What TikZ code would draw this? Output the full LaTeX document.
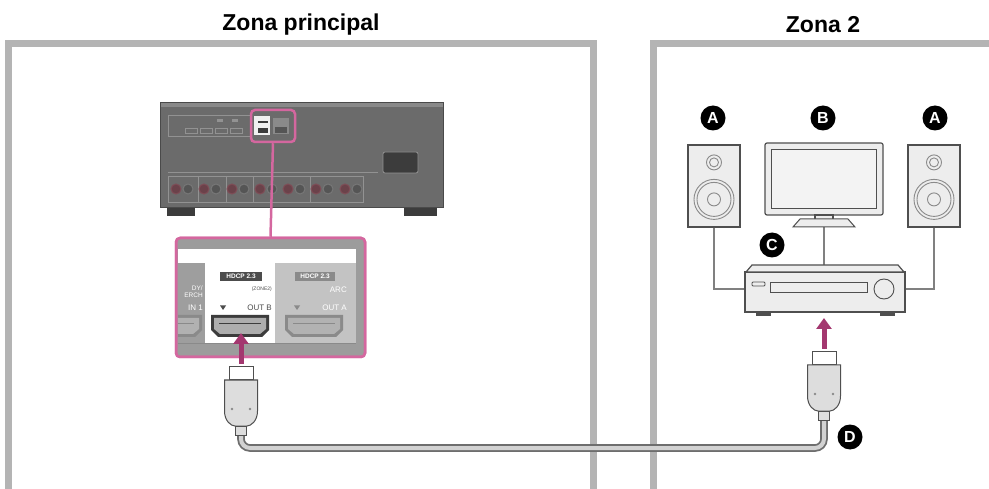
\documentclass[tikz,border=0pt]{standalone}
\usepackage{fontspec}
\setmainfont{Liberation Sans}
\usetikzlibrary{arrows.meta,calc}

\definecolor{zoneframe}{HTML}{B4B4B4}
\definecolor{hilite}{HTML}{D4679F}
\definecolor{plum}{HTML}{A3376F}
\definecolor{chassis}{HTML}{6B6B6B}
\definecolor{chassisedge}{HTML}{4A4A4A}
\definecolor{panelline}{HTML}{929292}
\definecolor{footcol}{HTML}{3C3C3C}
\definecolor{termred}{HTML}{7E4E57}
\definecolor{termgray}{HTML}{555555}
\definecolor{device}{HTML}{EDEDED}
\definecolor{screen}{HTML}{F3F3F3}
\definecolor{deviceedge}{HTML}{4F4F4F}
\definecolor{drivercol}{HTML}{8A8A8A}
\definecolor{wirecol}{HTML}{808080}
\definecolor{cablecore}{HTML}{D2D2D2}
\definecolor{cableedge}{HTML}{6E6E6E}
\definecolor{plugfill}{HTML}{DDDDDD}
\definecolor{panelgray}{HTML}{9C9C9C}
\definecolor{leftsect}{HTML}{9E9E9E}
\definecolor{rightsect}{HTML}{C3C3C3}
\definecolor{labeldark}{HTML}{4C4C4C}
\definecolor{labelmid}{HTML}{8A8A8A}

\tikzset{
  zone/.style={draw=zoneframe, line width=7pt},
  title/.style={font=\bfseries\fontsize{23}{23}\selectfont, inner sep=0pt},
  badge/.style={circle, fill=black, text=white, inner sep=0pt, minimum size=25pt,
    font=\bfseries\fontsize{16}{16}\selectfont},
  chassisbox/.style={rectangle, draw=chassisedge, fill=chassis, line width=1pt, inner sep=0pt},
  devbox/.style={rectangle, draw=deviceedge, fill=device, line width=1.2pt, inner sep=0pt},
  hilitebox/.style={rectangle, draw=hilite, line width=2.5pt, rounded corners=4pt, inner sep=0pt},
  wire/.style={draw=wirecol, line width=1.8pt},
  cable/.style={draw=cableedge, double=cablecore, double distance=4pt, line width=1.8pt},
  pinkarrow/.style={draw=plum, line width=5pt, -{Triangle[length=11pt,width=15pt]}},
  tiny/.style={inner sep=0pt, font=\fontsize{6.5}{6.5}\selectfont},
  pics/hdmiplug/.style={code={
    \draw[deviceedge, line width=1pt, fill=white] (-12,-13) rectangle (12,0);
    \draw[deviceedge, line width=1pt, fill=plugfill] (-16.5,0) -- (-16.5,31)
      .. controls (-16.5,41) and (-10,46) .. (-6,46) -- (6,46)
      .. controls (10,46) and (16.5,41) .. (16.5,31) -- (16.5,0) -- cycle;
    \draw[deviceedge, line width=1pt, fill=plugfill] (-5.5,46) rectangle (5.5,55);
    \fill[drivercol] (-9,29) circle (1.3) (9,29) circle (1.3);
  }},
  pics/hdmiport/.style 2 args={code={
    \fill[#1] (-29,-11) -- (29,-11) -- (29,4) -- (22,11) -- (-22,11) -- (-29,4) -- cycle;
    \fill[#2] (-26,-8) -- (26,-8) -- (26,3) -- (20,8) -- (-20,8) -- (-26,3) -- cycle;
    \draw[#1, line width=1pt] (-21,-2) -- (21,-2);
  }}
}

\begin{document}
\begin{tikzpicture}[x=1pt,y=-1pt]
\useasboundingbox (0,0) rectangle (989,489);

% ---------- zone frames and titles ----------
\draw[zone] (8.5,489) -- (8.5,43.5) -- (593,43.5) -- (593,489);
\draw[zone] (653,489) -- (653,43.5) -- (989,43.5);
\node[title] (tmain) at (301,25) {Zona principal};
\node[title] (tzone) at (823,25) {Zona 2};

% ---------- rear panel of the main receiver ----------
\fill[footcol] (167,207) rectangle (195,216);
\fill[footcol] (404,207) rectangle (437,216);
\node[chassisbox, minimum width=283pt, minimum height=105pt] (avr) at (301.5,155.5) {};
\fill[chassis!80!white] ($(avr.north west)+(1,1)$) rectangle ($(avr.north east)+(-1,5)$);
% HDMI inputs
\draw[panelline, line width=0.8pt] (168,115) rectangle (250,136);
\foreach \x in {185,200,215,230} \draw[panelline, line width=0.8pt] (\x,128) rectangle ++(12,5);
\fill[panelline] (217,119) rectangle ++(6,3);
\fill[panelline] (232,119) rectangle ++(6,3);
% HDMI outputs (highlighted)
\fill[gray!12] (254,116) rectangle (270,135);
\fill[footcol] (258,121) rectangle (268,123);
\fill[footcol] (258,128) rectangle (268,133);
\fill[labelmid] (273,118) rectangle (289,134);
\fill[termgray] (275,127) rectangle (287,133);
\node[hilitebox, minimum width=44pt, minimum height=32pt] (hl) at (273,126) {};
% AC inlet
\draw[fill=footcol, draw=panelline, line width=0.8pt, rounded corners=2pt] (383,152) rectangle (418,173);
% speaker terminals
\draw[panelline, line width=0.6pt] (168,172) -- (378,172);
\draw[panelline, line width=0.8pt] (168,176) rectangle (363,202);
\foreach \x in {198,226,253,310} \draw[panelline, line width=0.8pt] (\x,176) -- (\x,202);
\foreach \x in {176,204,232,260,288,316,345} {
  \draw[termred, fill=termred!85!black, line width=1pt] (\x,189) circle (5);
  \draw[termgray!80!white, fill=termgray, line width=1pt] (\x+12,189) circle (5);
}

% ---------- enlarged view of the HDMI outputs ----------
\node[hilitebox, fill=panelgray, minimum width=189pt, minimum height=119pt] (detail) at (270.5,297.5) {};
\draw[hilite, line width=2.5pt] (hl.south) -- (detail.north);
\begin{scope}
  \clip[rounded corners=3pt] (178,240) rectangle (363,355);
  \fill[white] (178,249) rectangle (356,263);
  \fill[leftsect] (178,263) rectangle (205,343);
  \fill[white] (205,263) rectangle (275,343);
  \fill[rightsect] (275,263) rectangle (356,343);
  \draw[labelmid, line width=0.8pt] (178,343) -- (356,343);
  % HDMI IN 1 (partly hidden)
  \node[tiny, anchor=east, text=white] (inA) at (203,288) {DY/};
  \node[tiny, anchor=east, text=white] (inB) at (203,295) {ERCH};
  \node[tiny, anchor=east, text=white, font=\fontsize{8}{8}\selectfont] (inC) at (203,308) {IN 1};
  \pic at (173,326) {hdmiport={labelmid}{leftsect!80!white}};
  % OUT B
  \node[fill=labeldark, text=white, inner sep=0pt, minimum width=42pt, minimum height=9pt,
        font=\bfseries\fontsize{6.5}{6.5}\selectfont] (hdcpB) at (241,276.5) {HDCP 2.3};
  \node[tiny, anchor=east, text=labeldark, font=\fontsize{5}{5}\selectfont] (zoneB) at (272,289) {(ZONE2)};
  \fill[labeldark] (220,305.5) -- (226,305.5) -- (223,310) -- cycle;
  \node[tiny, anchor=east, text=labeldark, font=\fontsize{8}{8}\selectfont] (outB) at (272,308) {OUT B};
  \pic at (240,326) {hdmiport={footcol}{labelmid!70!white}};
  % OUT A
  \node[fill=labelmid, text=white, inner sep=0pt, minimum width=40pt, minimum height=9pt,
        font=\bfseries\fontsize{6.5}{6.5}\selectfont] (hdcpA) at (315,276.5) {HDCP 2.3};
  \node[tiny, anchor=east, text=white, font=\fontsize{8}{8}\selectfont] (arcA) at (347,290) {ARC};
  \fill[labelmid] (294,305.5) -- (300,305.5) -- (297,310) -- cycle;
  \node[tiny, anchor=east, text=white, font=\fontsize{8}{8}\selectfont] (outA) at (347,308) {OUT A};
  \pic at (314,326) {hdmiport={labelmid}{rightsect!70!labelmid}};
\end{scope}
\node[hilitebox, minimum width=189pt, minimum height=119pt] (detailframe) at (270.5,297.5) {};

% ---------- HDMI cable ----------
\coordinate (plugLend) at (241,435);
\coordinate (plugRend) at (824,420);
\coordinate (cablerow) at (0,448);
\draw[cable, rounded corners=9pt] (plugLend) -- (plugLend |- cablerow) -- (plugRend |- cablerow) -- (plugRend);
\pic at (241,380) {hdmiplug};
\pic at (824,365) {hdmiplug};
\coordinate (plugLtop) at (241,364);
\coordinate (portB) at (241,333);
\draw[pinkarrow] (plugLtop) -- (portB);

% ---------- zone 2 equipment ----------
\coordinate (tvfoot) at (824,227);
\coordinate (rcvlid) at (824,265);
\node[devbox, minimum width=52pt, minimum height=82pt] (spkL) at (714,186) {};
\node[devbox, minimum width=52pt, minimum height=82pt] (spkR) at (934,186) {};
\node[devbox, minimum width=160pt, minimum height=40pt] (rcv) at (825,292) {};
\draw[wire] (spkL.south) |- ([yshift=3pt]rcv.west);
\draw[wire] (spkR.south) |- ([yshift=3pt]rcv.east);
\draw[wire] (tvfoot) -- (rcvlid);
\foreach \s in {spkL,spkR} {
  \draw[drivercol, line width=0.9pt] ($(\s.north)+(0,18)$) circle (7.5) circle (4.5);
  \draw[drivercol, line width=0.9pt] ($(\s.north)+(0,55)$) circle (20) circle (17) circle (6.5);
}
% television
\node[devbox, minimum width=118pt, minimum height=72pt, rounded corners=2pt] (tv) at (824,179) {};
\draw[deviceedge, line width=1pt, fill=screen] ($(tv.north west)+(7,7)$) rectangle ($(tv.south east)+(-7,-7)$);
\draw[devbox] (815,215) rectangle (833,220);
\draw[devbox, line width=1pt] (800,219) -- (848,219) -- (855,227) -- (793,227) -- cycle;
% zone 2 receiver
\draw[devbox] (746,272) -- (752,265) -- (898,265) -- (904,272) -- cycle;
\fill[deviceedge] (756,312) rectangle (771,316);
\fill[deviceedge] (880,312) rectangle (895,316);
\draw[deviceedge, line width=0.8pt, rounded corners=1pt] (752,282) rectangle (765,286);
\draw[deviceedge, line width=0.9pt] (770,282) rectangle (867,292);
\draw[deviceedge, line width=0.9pt] (884,289) circle (10);
\coordinate (rcvfoot) at (824,318);
\coordinate (plugRtop) at (824,349);
\draw[pinkarrow] (plugRtop) -- (rcvfoot);

% ---------- callout letters ----------
\node[badge] (bA1) at (713,118) {A};
\node[badge] (bB) at (823,118) {B};
\node[badge] (bA2) at (935,118) {A};
\node[badge] (bC) at (772,245) {C};
\node[badge] (bD) at (850,437) {D};
\end{tikzpicture}
\end{document}
